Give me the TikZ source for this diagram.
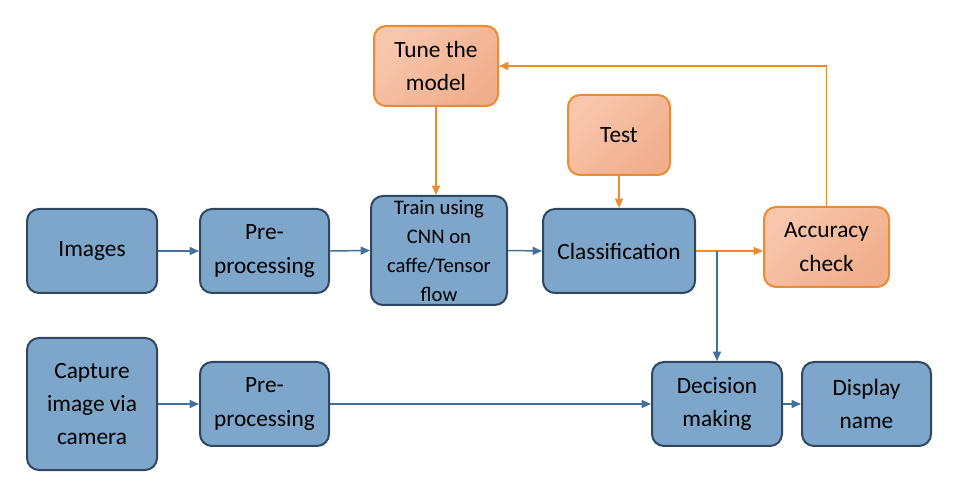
\documentclass[tikz,border=0pt]{standalone}
\usepackage{fontspec}
\setmainfont{Carlito}
\usetikzlibrary{arrows.meta}

\definecolor{boxblue}{RGB}{126,166,202}
\definecolor{edgeblue}{RGB}{47,72,98}
\definecolor{lineblue}{RGB}{65,113,156}
\definecolor{boxorange}{RGB}{248,198,173}
\definecolor{boxorangedark}{RGB}{240,174,140}
\definecolor{edgeorange}{RGB}{237,139,47}

\tikzset{every picture/.style={line width=0.75pt}}

\begin{document}
\begin{tikzpicture}[x=0.75pt,y=0.75pt,yscale=-1,xscale=1,
	bluebox/.style={draw=edgeblue,line width=1.5pt,fill=boxblue,rounded corners=9pt,align=center,inner sep=0pt,font=\fontsize{17.5}{25}\selectfont},
	orangebox/.style={draw=edgeorange,line width=1.5pt,top color=boxorange,bottom color=boxorangedark,shading angle=45,rounded corners=9pt,align=center,inner sep=0pt,font=\fontsize{17.5}{25}\selectfont},
	blueflow/.style={draw=lineblue,line width=1.1pt,-{Triangle[length=7pt,width=6pt]}},
	orangeflow/.style={draw=edgeorange,line width=1.1pt,-{Triangle[length=7pt,width=6pt]}}]
			\useasboundingbox (0,0) rectangle (971,491);

			%Shape: Rounded Rect [id:img] 
			\node [bluebox,minimum width=97.5pt,minimum height=63pt] (img) at (92,251) {Images};
			%Shape: Rounded Rect [id:preA] 
			\node [bluebox,minimum width=96.75pt,minimum height=63pt] (preA) at (264.5,251) {Pre-\\processing};
			%Shape: Rounded Rect [id:train] 
			\node [bluebox,minimum width=102pt,minimum height=81.75pt,font=\fontsize{15.5}{21.75}\selectfont] (train) at (439,250.5) {Train using\\CNN on\\caffe/Tensor\\flow};
			%Shape: Rounded Rect [id:cls] 
			\node [bluebox,minimum width=114pt,minimum height=63pt] (cls) at (619,251) {Classification};
			%Shape: Rounded Rect [id:acc] 
			\node [orangebox,minimum width=93.75pt,minimum height=60pt] (acc) at (826.5,247) {Accuracy\\check};
			%Shape: Rounded Rect [id:tune] 
			\node [orangebox,minimum width=93pt,minimum height=60pt] (tune) at (436,66) {Tune the\\model};
			%Shape: Rounded Rect [id:test] 
			\node [orangebox,minimum width=76.5pt,minimum height=60pt] (test) at (619,135) {Test};
			%Shape: Rounded Rect [id:cap] 
			\node [bluebox,minimum width=97.5pt,minimum height=99pt] (cap) at (92,404) {Capture\\image via\\camera};
			%Shape: Rounded Rect [id:preB] 
			\node [bluebox,minimum width=96.75pt,minimum height=63pt] (preB) at (264.5,404) {Pre-\\processing};
			%Shape: Rounded Rect [id:dec] 
			\node [bluebox,minimum width=97.5pt,minimum height=63pt] (dec) at (717,404) {Decision\\making};
			%Shape: Rounded Rect [id:disp] 
			\node [bluebox,minimum width=96.75pt,minimum height=63pt] (disp) at (866.5,404) {Display\\name};

			%Straight Lines [id:training row] 
			\draw [blueflow] (img.east) -- (preA.west) ;
			\draw [blueflow] (preA.east) -- (train.west) ;
			\draw [blueflow] (train.east) -- (cls.west) ;
			\draw [orangeflow] (tune.south) -- (tune.south |- train.north) ;
			\draw [orangeflow] (test.south) -- (cls.north) ;
			\draw [orangeflow] (cls.east) -- (cls.east -| acc.west) ;
			%Shape: Elbow [id:feedback] 
			\draw [orangeflow] (acc.north) |- (tune.east) ;
			%Straight Lines [id:branch] 
			\coordinate (split) at (dec.north |- cls.east) ;
			\draw [blueflow] (split) -- (dec.north) ;
			%Straight Lines [id:capture row] 
			\draw [blueflow] (cap.east) -- (preB.west) ;
			\draw [blueflow] (preB.east) -- (dec.west) ;
			\draw [blueflow] (dec.east) -- (disp.west) ;
\end{tikzpicture}
\end{document}
